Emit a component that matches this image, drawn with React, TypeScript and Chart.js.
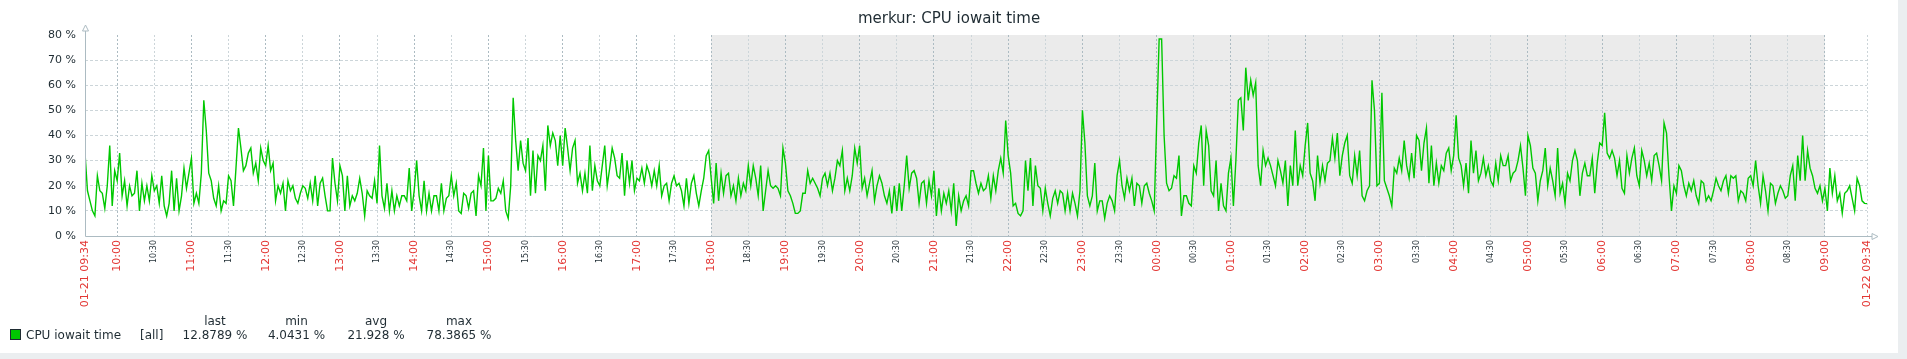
import React, { useEffect, useRef } from "react";
import { Chart, registerables } from "chart.js";

Chart.register(...registerables);

const chartTitle = "merkur: CPU iowait time";
const seriesName = "CPU iowait time";
const seriesFunction = "[all]";
const sampleStepMinutes = 2;
const rangeStartLabel = "01-21 09:34";
const rangeEndLabel = "01-22 09:34";
const nonWorkStartLabel = "18:00";
const nonWorkEndLabel = "09:00";

// CPU iowait (%) sampled every 2 minutes from 01-21 09:34 to 01-22 09:34
const iowait = [
  33, 18, 14, 10, 8, 24, 18, 17, 11, 20, 36, 12, 26, 22, 33, 16, 22, 12, 20, 16,
  17, 26, 10, 21, 14, 20, 14, 24, 18, 20, 13, 24, 12, 8, 13, 26, 10, 23, 10, 16,
  27, 19, 25, 31, 13, 17, 13, 25, 54, 42, 25, 22, 15, 12, 20, 10, 14, 13, 24, 22,
  12, 27, 43, 35, 26, 28, 33, 35, 25, 29, 22, 35, 30, 28, 36, 26, 29, 14, 20, 17,
  21, 10, 22, 18, 20, 15, 13, 17, 20, 19, 15, 21, 14, 24, 12, 21, 23, 16, 10, 10,
  31, 21, 14, 28,
  24, 10, 24, 12, 16, 14, 17, 23, 17, 8, 18, 16, 15, 22, 13, 36, 16, 11, 21, 10,
  18, 10, 16, 12, 16, 16, 14, 27, 10, 18, 30, 16, 10, 22, 10, 17, 10, 16, 16, 10,
  21, 10, 15, 16, 24, 16, 21, 10, 9, 17, 16, 11, 17, 18, 8, 24, 20, 35, 10, 32,
  14, 14, 15, 19, 17, 22, 10, 7, 20, 55, 38, 26, 38, 29, 26, 39, 16, 34, 17, 32,
  30, 36, 18, 44, 36, 41, 38, 28, 40, 28, 43, 35, 26, 35, 38, 21, 25, 18, 25, 17,
  36, 18,
  28, 22, 20, 28, 36, 20, 27, 35, 31, 24, 23, 33, 16, 30, 21, 30, 18, 23, 22, 27,
  21, 28, 25, 20, 26, 20, 28, 16, 20, 21, 14, 21, 24, 20, 21, 18, 12, 23, 13, 21,
  24, 17, 12, 18, 23, 32, 34, 23, 13, 29, 14, 25, 17, 24, 25, 16, 20, 14, 23, 16,
  21, 18, 28, 20, 28, 23, 16, 28, 10, 18, 26, 20, 19, 20, 19, 16, 35, 29, 18, 16,
  13, 9, 9, 10, 17, 17, 26, 21, 23, 21, 19, 16, 23, 25, 20, 25, 18, 23, 30, 28,
  34, 18, 23,
  18, 24, 35, 29, 36, 19, 23, 16, 21, 26, 14, 20, 24, 21, 16, 13, 18, 9, 20, 10,
  21, 10, 20, 32, 19, 25, 26, 23, 13, 21, 22, 13, 22, 16, 26, 8, 19, 10, 17, 13,
  18, 10, 21, 4.04, 16, 10, 14, 16, 12, 26, 26, 21, 17, 21, 18, 19, 24, 15, 24, 18,
  26, 31, 25, 46, 32, 25, 12, 13, 9, 8, 10, 30, 18, 31, 12, 28, 20, 19, 10, 19,
  13, 8, 15, 18, 13, 18, 17, 10, 17, 10, 17, 13, 8, 18, 50, 37, 16, 12, 16, 29,
  10, 14,
  14, 7, 13, 16, 14, 10, 24, 30, 20, 15, 23, 18, 23, 12, 21, 20, 13, 20, 21, 17,
  14, 10, 45, 78.39, 78.39, 40, 21, 18, 19, 24, 23, 32, 8, 16, 16, 13, 12, 28, 25, 37,
  44, 20, 42, 36, 18, 16, 30, 10, 21, 12, 10, 25, 31, 12, 30, 54, 55, 42, 67, 54,
  62, 56, 61, 28, 20, 34, 28, 31, 28, 24, 20, 30, 26, 21, 30, 12, 28, 20, 42, 20,
  28, 24, 36, 45, 25, 22, 14, 32, 21, 28, 22, 29, 30, 39, 31, 41, 24, 32, 37, 40,
  24, 21, 32,
  24, 34, 16, 14, 18, 20, 62, 50, 20, 21, 57, 22, 19, 16, 12, 27, 25, 31, 26, 38,
  28, 23, 33, 23, 40, 38, 26, 37, 43, 21, 36, 20, 29, 21, 28, 26, 33, 35, 26, 32,
  48, 31, 28, 20, 29, 17, 38, 25, 34, 22, 25, 31, 24, 28, 22, 20, 29, 22, 32, 28,
  28, 32, 22, 25, 26, 30, 36, 27, 16, 40, 36, 27, 25, 14, 22, 26, 35, 20, 27, 22,
  16, 35, 17, 21, 13, 25, 22, 30, 34, 30, 16, 25, 29, 24, 24, 31, 17, 29, 37, 36,
  49, 33, 31,
  34, 31, 24, 30, 19, 17, 32, 25, 31, 35, 24, 20, 34, 30, 24, 29, 22, 32, 33, 28,
  22, 45, 41, 24, 10, 20, 17, 28, 26, 20, 16, 21, 18, 22, 16, 13, 22, 21, 14, 16,
  14, 18, 23, 20, 18, 22, 24, 17, 24, 23, 24, 14, 18, 17, 14, 23, 24, 20, 30, 20,
  13, 24, 18, 10, 21, 20, 13, 17, 20, 18, 15, 16, 24, 28, 14, 32, 22, 40, 22, 34,
  27, 24, 19, 17, 20, 14, 19, 10, 27, 17, 24, 14, 17, 9, 17, 18, 20, 15, 10, 23,
  20, 14, 13, 12.88,
];

const timeTickLabels = [
  "01-21 09:34", "10:00", "10:30", "11:00", "11:30", "12:00", "12:30", "13:00", "13:30",
  "14:00", "14:30", "15:00", "15:30", "16:00", "16:30", "17:00", "17:30", "18:00", "18:30",
  "19:00", "19:30", "20:00", "20:30", "21:00", "21:30", "22:00", "22:30", "23:00", "23:30",
  "00:00", "00:30", "01:00", "01:30", "02:00", "02:30", "03:00", "03:30", "04:00", "04:30",
  "05:00", "05:30", "06:00", "06:30", "07:00", "07:30", "08:00", "08:30", "09:00",
  "01-22 09:34",
];

const yTickValues = [0, 10, 20, 30, 40, 50, 60, 70, 80];

const legendHeaders = ["last", "min", "avg", "max"];
const legendValues = ["12.8789 %", "4.0431 %", "21.928 %", "78.3865 %"];

const FONT = '"DejaVu Sans", sans-serif';
const TEXT = "#1f2c33";
const HIGHLIGHT = "#e33734";
const GRID = "#ccd5d9";
const MAIN_GRID = "#acbbc2";
const NON_WORK = "#ebebeb";
const LINE = "#00c800";

function minutesFromStart(label: string): number {
  if (label === rangeStartLabel) return 0;
  if (label === rangeEndLabel) return 1440;
  const [h, m] = label.split(":").map(Number);
  let t = h * 60 + m - (9 * 60 + 34);
  if (t < 0) t += 1440;
  return t;
}

const tickMinutes = timeTickLabels.map(minutesFromStart);
const isMajor = (i: number) => {
  const l = timeTickLabels[i] || "";
  return l === rangeStartLabel || l === rangeEndLabel || l.endsWith(":00");
};

const framePlugin = {
  id: "zabbixFrame",
  beforeDraw(chart: any) {
    const { ctx, chartArea, scales } = chart;
    const x0 = scales.x.getPixelForValue(minutesFromStart(nonWorkStartLabel));
    const x1 = scales.x.getPixelForValue(minutesFromStart(nonWorkEndLabel));
    ctx.save();
    ctx.fillStyle = NON_WORK;
    ctx.fillRect(x0, chartArea.top, x1 - x0, chartArea.bottom - chartArea.top);
    ctx.fillStyle = TEXT;
    ctx.font = `15px ${FONT}`;
    ctx.textAlign = "center";
    ctx.textBaseline = "middle";
    ctx.fillText(chartTitle, chart.width / 2, 19);
    ctx.restore();
  },
  afterDraw(chart: any) {
    const { ctx, chartArea } = chart;
    const ax = Math.round(chartArea.left) + 0.5;
    const ay = Math.round(chartArea.bottom) + 0.5;
    ctx.save();
    ctx.strokeStyle = MAIN_GRID;
    ctx.lineWidth = 1;
    ctx.beginPath();
    ctx.moveTo(ax, ay);
    ctx.lineTo(ax, chartArea.top - 4);
    ctx.moveTo(ax, ay);
    ctx.lineTo(chartArea.right + 5, ay);
    ctx.stroke();
    ctx.fillStyle = "#ffffff";
    ctx.beginPath();
    ctx.moveTo(ax, chartArea.top - 10);
    ctx.lineTo(ax - 3, chartArea.top - 4);
    ctx.lineTo(ax + 3, chartArea.top - 4);
    ctx.closePath();
    ctx.fill();
    ctx.stroke();
    ctx.beginPath();
    ctx.moveTo(chartArea.right + 11, ay);
    ctx.lineTo(chartArea.right + 5, ay - 3);
    ctx.lineTo(chartArea.right + 5, ay + 3);
    ctx.closePath();
    ctx.fill();
    ctx.stroke();
    ctx.restore();
  },
};

export default function App() {
  const canvasRef = useRef<HTMLCanvasElement | null>(null);

  useEffect(() => {
    document.body.style.margin = "0";
    document.body.style.background = "#ebeef0";
    const canvas = canvasRef.current;
    if (!canvas) return;
    const chart = new Chart(canvas, {
      type: "line",
      data: {
        datasets: [
          {
            label: seriesName,
            data: iowait.map((v, i) => ({ x: i * sampleStepMinutes, y: v })),
            borderColor: LINE,
            backgroundColor: LINE,
            borderWidth: 1.4,
            pointRadius: 0,
            tension: 0,
            fill: false,
          },
        ],
      },
      options: {
        animation: false,
        responsive: false,
        devicePixelRatio: 1,
        events: [],
        layout: { padding: { top: 35, right: 31, left: 0, bottom: 0 } },
        plugins: {
          legend: { display: false },
          tooltip: { enabled: false },
          title: { display: false },
        },
        scales: {
          x: {
            type: "linear",
            min: 0,
            max: 1440,
            afterBuildTicks: (s: any) => {
              s.ticks = tickMinutes.map((v) => ({ value: v }));
            },
            afterFit: (s: any) => {
              s.height = 117;
            },
            ticks: {
              autoSkip: false,
              minRotation: 90,
              maxRotation: 90,
              padding: 4,
              callback: (_v: any, i: number) => timeTickLabels[i],
              color: (c: any) => (isMajor(c.index) ? HIGHLIGHT : TEXT),
              font: (c: any) => ({ family: FONT, size: isMajor(c.index) ? 11 : 8 }),
            },
            grid: {
              drawTicks: false,
              lineWidth: 1,
              color: (c: any) => {
                if (c.index === 0) return "rgba(0,0,0,0)";
                const l = timeTickLabels[c.index] || "";
                return l.endsWith(":00") ? MAIN_GRID : GRID;
              },
            },
            border: { display: false, dash: [2, 2] },
          },
          y: {
            min: 0,
            max: 80,
            afterBuildTicks: (s: any) => {
              s.ticks = yTickValues.map((v) => ({ value: v }));
            },
            afterFit: (s: any) => {
              s.width = 85;
            },
            ticks: {
              padding: 9,
              color: TEXT,
              font: { family: FONT, size: 11 },
              callback: (v: any) => `${v} %`,
            },
            grid: {
              drawTicks: false,
              lineWidth: 1,
              color: (c: any) => {
                const v = yTickValues[c.index];
                return v === 0 || v === 80 ? "rgba(0,0,0,0)" : GRID;
              },
            },
            border: { display: false, dash: [3, 2] },
          },
        },
      },
      plugins: [framePlugin],
    });
    return () => chart.destroy();
  }, []);

  const legendCenters = [215, 296.5, 376, 459];
  const textStyle: React.CSSProperties = {
    position: "absolute",
    fontFamily: FONT,
    fontSize: 12,
    lineHeight: "14px",
    color: TEXT,
    whiteSpace: "nowrap",
  };

  return (
    <div style={{ position: "relative", width: 1898, height: 353, background: "#ffffff" }}>
      <canvas ref={canvasRef} width={1898} height={353} style={{ display: "block" }} />
      <div
        style={{
          position: "absolute",
          left: 10,
          top: 329,
          width: 9,
          height: 9,
          background: LINE,
          border: `1px solid ${TEXT}`,
        }}
      />
      <div style={{ ...textStyle, left: 26, top: 328 }}>{seriesName}</div>
      <div style={{ ...textStyle, left: 140, top: 328 }}>{seriesFunction}</div>
      {legendHeaders.map((h, i) => (
        <div
          key={h}
          style={{ ...textStyle, left: legendCenters[i] - 50, width: 100, textAlign: "center", top: 314 }}
        >
          {h}
        </div>
      ))}
      {legendValues.map((v, i) => (
        <div
          key={v}
          style={{ ...textStyle, left: legendCenters[i] - 50, width: 100, textAlign: "center", top: 328 }}
        >
          {v}
        </div>
      ))}
    </div>
  );
}
